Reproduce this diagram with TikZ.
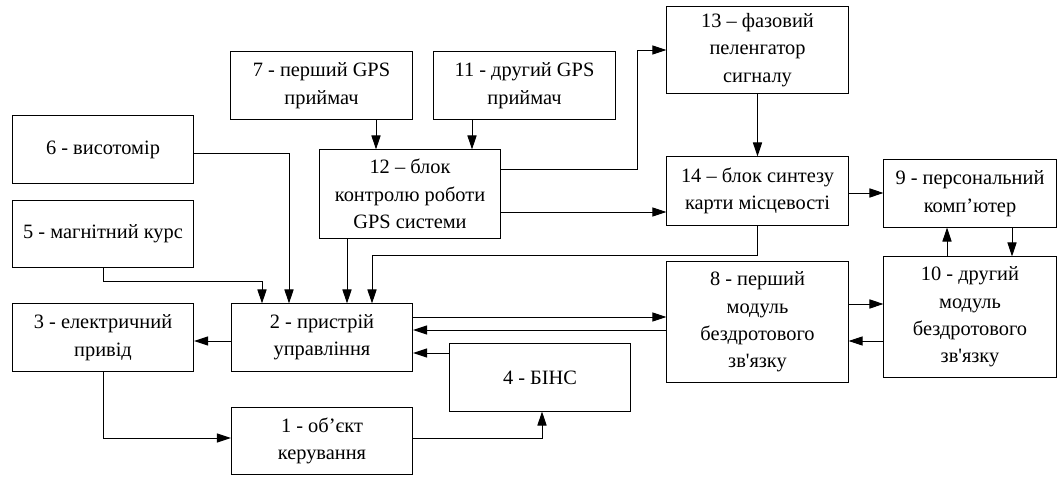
\documentclass[tikz,border=0pt]{standalone}
\usepackage{fontspec}
\setmainfont{Liberation Serif}
\usetikzlibrary{arrows.meta}

\begin{document}
\begin{tikzpicture}[x=0.025cm, y=-0.025cm, font=\fontsize{14.5}{19.5}\selectfont,
  blk/.style={draw, line width=0.7pt, align=center, minimum width=4.53cm, minimum height=1.675cm, inner sep=2pt},
  arr/.style={line width=0.7pt, -{Triangle[length=10pt,width=6.5pt]}}]
  \useasboundingbox (0,0) rectangle (1059,477);

  % Define blocks
  \node[blk, minimum height=2.15cm] (b13) at (757.5,50) {13 – фазовий\\пеленгатор\\сигналу};
  \node[blk] (b7) at (321.5,85.5) {7 - перший GPS\\приймач};
  \node[blk] (b11) at (524.5,85.5) {11 - другий GPS\\приймач};
  \node[blk] (b6) at (103,149.5) {6 - висотомір};
  \node[blk, minimum height=2.2cm] (b12) at (410,194) {12 – блок\\контролю роботи\\GPS системи};
  \node[blk, minimum height=1.7cm] (b14) at (757.5,191) {14 – блок синтезу\\карти місцевості};
  \node[blk, minimum width=4.3cm] (b9) at (970,193.5) {9 - персональний\\комп’ютер};
  \node[blk] (b5) at (103,234) {5 - магнітний курс};
  \node[blk, minimum height=3cm] (b8) at (757.5,322) {8 - перший\\модуль\\бездротового\\зв\textquotesingle язку};
  \node[blk, minimum width=4.3cm, minimum height=3cm] (b10) at (970,317) {10 - другий\\модуль\\бездротового\\зв\textquotesingle язку};
  \node[blk] (b3) at (103,337.5) {3 - електричний\\привід};
  \node[blk] (b2) at (322,337.5) {2 - пристрій\\управління};
  \node[blk] (b4) at (540,377.5) {4 - БІНС};
  \node[blk] (b1) at (322,441) {1 - об’єкт\\керування};

  % Draw connections
  \draw[arr] (b7.south -| 376,0) -- (b12.north -| 376,0);
  \draw[arr] (b11.south -| 472,0) -- (b12.north -| 472,0);
  \draw[arr] (b12.east |- 0,169) -| (b13.west -| 637,0) -- (b13.west);
  \draw[arr] (b12.east |- 0,212) -- (b14.west |- 0,212);
  \draw[arr] (b13) -- (b14);
  \draw[arr] (b14.east |- 0,193) -- (b9.west |- 0,193);
  \draw[arr] (b14.south) -- (b14.south |- 0,255) -| (b2.north -| 372,0);
  \draw[arr] (b12.south -| 347,0) -- (b2.north -| 347,0);
  \draw[arr] (b6.east |- 0,153) -| (b2.north -| 289,0);
  \draw[arr] (b5.south) -- (b5.south |- 0,281) -| (b2.north -| 262,0);
  \draw[arr] (b2.west |- 0,341) -- (b3.east |- 0,341);
  \draw[arr] (b3.south) |- (b1.west |- 0,438);
  \draw[arr] (b1.east |- 0,438) -| (b4.south -| 542,0);
  \draw[arr] (b4.west |- 0,353) -- (b2.east |- 0,353);
  \draw[arr] (b2.east |- 0,317) -- (b8.west |- 0,317);
  \draw[arr] (b8.west |- 0,330) -- (b2.east |- 0,330);
  \draw[arr] (b8.east |- 0,304) -- (b10.west |- 0,304);
  \draw[arr] (b10.west |- 0,341) -- (b8.east |- 0,341);
  \draw[arr] (b10.north -| 947,0) -- (b9.south -| 947,0);
  \draw[arr] (b9.south -| 1012,0) -- (b10.north -| 1012,0);

\end{tikzpicture}
\end{document}
